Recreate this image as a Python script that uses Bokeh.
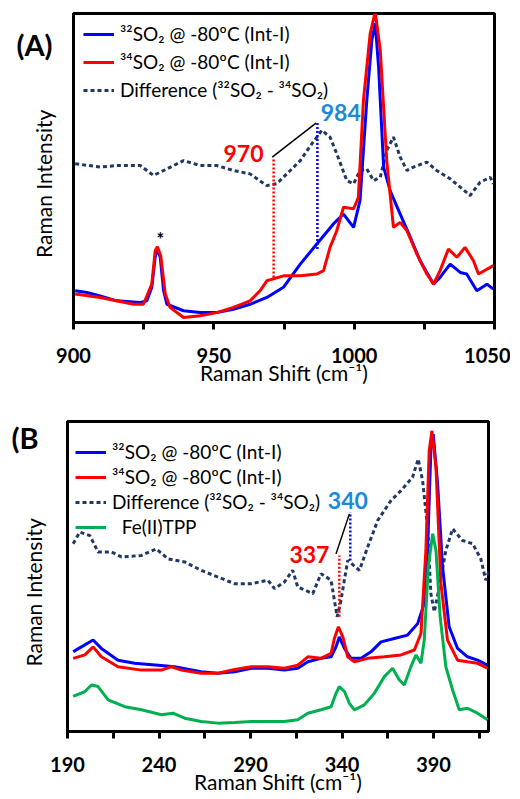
from bokeh.plotting import figure
from bokeh.models import (Range1d, FixedTicker, Legend, LegendItem, Label, CustomJSTickFormatter)
from bokeh.layouts import column, row
from bokeh.embed import file_html
from bokeh.resources import INLINE

FONT = "Lato"

# ---------------- Panel A data ----------------
a_x32 = [900.6, 904.8, 909.5, 915.4, 923.8, 926.1, 927.9, 929.1, 929.9, 930.9, 932.1, 933.3, 939.2, 945.1,
         951.0, 957.0, 962.9, 968.9, 974.8, 980.8, 986.7, 992.6, 996.2, 999.8, 1002.1, 1004.5, 1006.3, 1007.5,
         1008.7, 1010.5, 1012.8, 1016.4, 1020.0, 1023.5, 1028.3, 1030.6, 1034.2, 1037.8, 1040.1, 1043.7, 1047.3, 1049.6]
a_y32 = [10.3, 9.7, 8.6, 7.0, 6.5, 7.0, 11.4, 21.1, 23.8, 21.1, 10.3, 5.9, 3.8, 3.2,
         3.2, 4.3, 5.9, 8.1, 11.4, 18.9, 25.4, 31.9, 35.1, 30.8, 39.5, 71.9, 91.4, 96.8,
         82.7, 50.3, 42.7, 35.1, 27.6, 20.0, 12.4, 14.6, 18.9, 16.2, 15.7, 10.3, 12.4, 10.8]
a_x34 = [900.6, 909.5, 921.4, 924.9, 927.9, 929.1, 929.9, 931.1, 932.7, 934.4, 939.2, 945.1, 951.0, 957.0,
         962.9, 966.5, 968.9, 974.8, 980.8, 986.7, 989.1, 991.4, 993.8, 996.2, 999.8, 1001.5, 1003.3, 1005.7,
         1007.5, 1009.3, 1011.6, 1014.0, 1016.4, 1018.8, 1022.3, 1025.9, 1028.3, 1030.6, 1033.6, 1036.6, 1039.5,
         1042.5, 1044.3, 1049.6]
a_y34 = [9.2, 8.1, 5.9, 5.9, 12.4, 23.2, 24.5, 21.5, 9.2, 4.9, 1.6, 2.2, 3.2, 4.9,
         7.0, 10.3, 13.5, 15.1, 15.1, 15.7, 16.8, 24.3, 29.7, 37.3, 36.8, 40.5, 71.9, 93.5,
         100.5, 88.1, 52.4, 30.8, 32.4, 29.7, 22.2, 15.7, 12.4, 16.8, 23.8, 21.1, 24.3,
         20.0, 15.7, 18.4]
a_xd = [900.6, 909.5, 915.4, 923.8, 928.5, 933.3, 939.2, 945.1, 951.0, 957.0, 962.9, 968.9, 972.4, 976.0,
        980.8, 984.9, 988.5, 991.4, 993.8, 997.4, 999.8, 1002.1, 1004.5, 1006.9, 1009.3, 1011.6, 1014.0,
        1016.4, 1018.8, 1021.1, 1025.9, 1029.4, 1034.2, 1037.8, 1041.3, 1044.9, 1048.5, 1049.6]
a_yd = [51.4, 50.3, 50.8, 50.8, 47.6, 49.7, 52.4, 50.8, 50.8, 49.2, 48.1, 44.3, 44.9, 48.1,
        52.4, 57.8, 62.2, 60.0, 54.6, 45.9, 44.9, 49.2, 49.7, 45.9, 47.0, 55.7, 60.0,
        53.5, 49.2, 50.3, 51.9, 49.2, 46.5, 43.8, 41.1, 45.4, 47.0, 44.9]
a_ticks = [900, 950, 1000, 1050]
a_minor = [925, 975, 1025]
# annotation marks (x position, y bottom, y top)
a_red_mark = [971.3, 14.6, 53.0]
a_blue_mark = [986.9, 23.8, 64.9]
a_link = [970.8, 53.5, 986.4, 64.5]

# ---------------- Panel B data ----------------
b_x32 = [193.1, 197.6, 204.0, 208.5, 217.6, 226.7, 239.5, 248.5, 263.0, 272.2, 281.3, 290.4, 299.5, 308.5,
         315.8, 321.3, 328.5, 334.0, 336.7, 338.5, 341.3, 344.9, 350.4, 355.8, 361.3, 368.5, 375.8, 381.3,
         384.9, 386.7, 388.5, 389.8, 392.2, 394.9, 398.5, 403.1, 408.5, 414.0, 419.5]
b_y32 = [25.7, 27.3, 29.5, 26.8, 23.0, 22.0, 21.4, 20.9, 19.3, 18.8, 19.3, 20.4, 20.4, 19.8,
         20.4, 22.5, 23.6, 24.1, 27.3, 30.5, 26.8, 23.6, 23.6, 25.7, 28.9, 30.0, 31.1, 34.8,
         41.3, 58.4, 90.6, 95.9, 79.9, 53.1, 33.8, 26.8, 24.1, 23.0, 21.4]
b_x34 = [193.1, 199.5, 204.0, 208.5, 217.6, 230.4, 241.3, 246.7, 252.2, 263.0, 272.2, 281.3, 290.4, 299.5,
         308.5, 315.8, 321.3, 328.5, 334.0, 335.8, 338.0, 340.4, 343.1, 346.7, 354.0, 363.1, 372.2, 379.5,
         383.1, 385.8, 387.6, 389.1, 391.3, 394.0, 397.6, 403.1, 408.5, 414.0, 419.5]
b_y34 = [23.6, 24.7, 27.3, 24.1, 20.9, 19.8, 19.8, 20.9, 19.8, 18.8, 18.8, 20.0, 20.9, 20.9,
         20.4, 21.4, 24.1, 23.6, 25.2, 30.0, 33.8, 30.5, 24.1, 22.5, 23.6, 24.1, 24.7, 26.3,
         31.6, 58.4, 90.6, 97.0, 85.2, 47.7, 29.5, 23.0, 22.5, 22.0, 20.4]
b_xfe = [193.1, 199.5, 203.1, 206.7, 212.2, 221.3, 230.4, 241.3, 247.6, 254.0, 263.0, 272.2, 281.3, 290.4,
         299.5, 308.5, 315.8, 321.3, 328.5, 334.0, 336.7, 338.5, 341.3, 344.0, 346.7, 352.2, 357.6, 363.1,
         367.6, 371.3, 374.0, 377.6, 380.4, 383.1, 384.9, 387.1, 389.5, 391.3, 393.6, 396.7, 400.4, 404.0,
         408.5, 414.0, 419.5]
b_yfe = [11.3, 12.9, 15.0, 14.5, 10.2, 8.0, 7.0, 5.4, 5.9, 4.3, 3.2, 2.7, 2.9, 3.2,
         3.2, 3.2, 3.8, 5.9, 7.0, 8.0, 12.3, 14.5, 12.9, 9.1, 7.0, 8.6, 12.3, 17.7,
         20.4, 16.6, 15.0, 20.9, 24.7, 22.0, 29.5, 53.1, 63.8, 58.4, 37.0, 20.9, 13.4, 7.0,
         7.5, 5.9, 3.8]
b_xd = [193.1, 196.7, 202.2, 206.7, 214.0, 219.5, 230.4, 238.5, 244.9, 254.0, 263.0, 272.2, 281.3, 290.4,
        299.5, 303.1, 308.5, 313.0, 315.8, 324.0, 328.5, 334.0, 337.3, 339.1, 343.1, 349.5, 354.0, 359.5,
        366.7, 372.2, 378.5, 381.6, 384.0, 386.7, 388.5, 390.4, 393.1, 396.7, 400.4, 405.8, 411.3, 415.8,
        418.5, 420.4]
b_yd = [60.6, 64.3, 63.2, 57.9, 57.9, 56.3, 56.8, 58.9, 55.7, 54.7, 52.0, 49.8, 47.7, 47.7,
        48.8, 46.1, 48.2, 52.0, 46.6, 44.5, 50.9, 48.8, 37.0, 41.3, 55.2, 52.0, 59.5, 68.1,
        74.5, 77.7, 82.0, 87.9, 80.9, 65.9, 44.5, 38.6, 46.6, 58.4, 65.4, 61.6, 60.6, 55.7,
        48.8, 52.0]
b_ticks = [190, 240, 290, 340, 390]
b_minor = [215, 265, 315, 365, 415]
b_red_mark = [338.5, 37.0, 56.8]
b_blue_mark = [344.5, 55.2, 70.7]
b_link = [336.7, 57.3, 344.0, 70.2]

LBL32 = "\u00b3\u00b2SO\u2082 @ -80\u00baC (Int-I)"
LBL34 = "\u00b3\u2074SO\u2082 @ -80\u00baC (Int-I)"
LBLD = "Difference (\u00b3\u00b2SO\u2082 - \u00b3\u2074SO\u2082)"
LBLFE = "\u00a0\u00a0Fe(II)TPP"
YLABEL = "Raman Intensity" + "\u00a0" * 6

BLUE = "#0000ff"
RED = "#ff0000"
NAVY = "#1f3864"
GREEN = "#00b050"
LBLUE = "#1a8ad8"


def style(p, ticks, minor, panel_text, panel_y, panel_standoff, ylab_standoff):
    p.outline_line_color = "black"
    p.outline_line_width = 3
    p.xgrid.visible = False
    p.ygrid.visible = False
    p.background_fill_color = "white"
    p.border_fill_color = "white"
    xa = p.xaxis[0]
    xa.ticker = FixedTicker(ticks=ticks, minor_ticks=minor)
    xa.axis_line_width = 3
    xa.major_tick_line_width = 3
    xa.minor_tick_line_width = 3
    xa.major_tick_out = 7
    xa.major_tick_in = 0
    xa.minor_tick_out = 7
    xa.minor_tick_in = 0
    xa.major_label_standoff = 18
    xa.major_label_text_font = FONT
    xa.major_label_text_font_size = "20px"
    xa.major_label_text_font_style = "bold"
    xa.major_label_text_color = "black"
    xa.axis_label = "Raman Shift (cm\u207b\u00b9)"
    xa.axis_label_text_font = FONT
    xa.axis_label_text_font_size = "21px"
    xa.axis_label_text_font_style = "normal"
    xa.axis_label_text_color = "black"
    xa.axis_label_standoff = -6
    # y axis: no intensity ticks; the panel letter rides on one tick label
    ya = p.yaxis[0]
    ya.ticker = FixedTicker(ticks=[panel_y])
    ya.formatter = CustomJSTickFormatter(code="return '%s'" % panel_text)
    ya.axis_line_width = 3
    ya.major_tick_out = 0
    ya.major_tick_in = 0
    ya.major_tick_line_color = None
    ya.minor_tick_out = 0
    ya.minor_tick_in = 0
    ya.major_label_standoff = panel_standoff
    ya.major_label_text_font = FONT
    ya.major_label_text_font_size = "29px"
    ya.major_label_text_font_style = "bold"
    ya.major_label_text_color = "black"
    ya.axis_label = YLABEL
    ya.axis_label_text_font = FONT
    ya.axis_label_text_font_size = "21px"
    ya.axis_label_text_font_style = "normal"
    ya.axis_label_text_color = "black"
    ya.axis_label_standoff = ylab_standoff


def add_label(p, x, y, text, color, size, align, bold=True):
    p.add_layout(Label(x=x, y=y, text=text, text_color=color, text_font=FONT,
                       text_font_size=size, text_font_style="bold" if bold else "normal",
                       text_align=align, text_baseline="middle"))


def legend(items, loc, spacing):
    return Legend(items=items, location=loc, margin=0, padding=10, spacing=spacing,
                  label_text_font=FONT, label_text_font_size="19px", label_text_color="black",
                  glyph_width=31, glyph_height=20, label_height=20, label_standoff=6,
                  border_line_color=None, background_fill_alpha=0)


# ---------------- Panel A ----------------
pA = figure(width=510, height=388, output_backend="svg", toolbar_location=None,
            x_range=Range1d(900, 1050), y_range=Range1d(0, 100),
            min_border_left=73, min_border_right=16, min_border_top=13, min_border_bottom=66)
style(pA, a_ticks, a_minor, "(A)", 90, 21, -43)

rAd = pA.line(a_xd, a_yd, line_color=NAVY, line_width=3, line_dash="4 3")
rA32 = pA.line(a_x32, a_y32, line_color=BLUE, line_width=3)
rA34 = pA.line(a_x34, a_y34, line_color=RED, line_width=3)

pA.segment(x0=[a_red_mark[0]], y0=[a_red_mark[1]], x1=[a_red_mark[0]], y1=[a_red_mark[2]],
           line_color=RED, line_width=2.5, line_dash="2 2")
pA.segment(x0=[a_blue_mark[0]], y0=[a_blue_mark[1]], x1=[a_blue_mark[0]], y1=[a_blue_mark[2]],
           line_color=BLUE, line_width=2.5, line_dash="2 2")
pA.segment(x0=[a_link[0]], y0=[a_link[1]], x1=[a_link[2]], y1=[a_link[3]],
           line_color="black", line_width=1.5)

add_label(pA, 967.7, 54.6, "970", RED, "23px", "right")
add_label(pA, 988.1, 67.8, "984", LBLUE, "23px", "left")
add_label(pA, 930.9, 27.0, "*", "black", "18px", "center")

pA.add_layout(legend([LegendItem(label=LBL32, renderers=[rA32]),
                      LegendItem(label=LBL34, renderers=[rA34]),
                      LegendItem(label=LBLD, renderers=[rAd])], (10, 221), 5))

# ---------------- Panel B ----------------
pB = figure(width=510, height=408, output_backend="svg", toolbar_location=None,
            x_range=Range1d(190, 420), y_range=Range1d(0, 100),
            min_border_left=67, min_border_right=22, min_border_top=33, min_border_bottom=64)
style(pB, b_ticks, b_minor, "(B", 95, 29, -38)

rBd = pB.line(b_xd, b_yd, line_color=NAVY, line_width=3, line_dash="4 3")
rB32 = pB.line(b_x32, b_y32, line_color=BLUE, line_width=3)
rB34 = pB.line(b_x34, b_y34, line_color=RED, line_width=3)
rBfe = pB.line(b_xfe, b_yfe, line_color=GREEN, line_width=3)

pB.segment(x0=[b_red_mark[0]], y0=[b_red_mark[1]], x1=[b_red_mark[0]], y1=[b_red_mark[2]],
           line_color=RED, line_width=2.5, line_dash="2 2")
pB.segment(x0=[b_blue_mark[0]], y0=[b_blue_mark[1]], x1=[b_blue_mark[0]], y1=[b_blue_mark[2]],
           line_color=BLUE, line_width=2.5, line_dash="2 2")
pB.segment(x0=[b_link[0]], y0=[b_link[1]], x1=[b_link[2]], y1=[b_link[3]],
           line_color="black", line_width=1.5)

add_label(pB, 333.1, 57.1, "337", RED, "23px", "right")
add_label(pB, 332.2, 74.5, "340", LBLUE, "23px", "left")

pB.add_layout(legend([LegendItem(label=LBL32, renderers=[rB32]),
                      LegendItem(label=LBL34, renderers=[rB34]),
                      LegendItem(label=LBLD, renderers=[rBd]),
                      LegendItem(label=LBLFE, renderers=[rBfe])], (8, 193), 2))

layout = column(pA, row(pB))
open("out.html", "w").write(file_html(layout, INLINE))
